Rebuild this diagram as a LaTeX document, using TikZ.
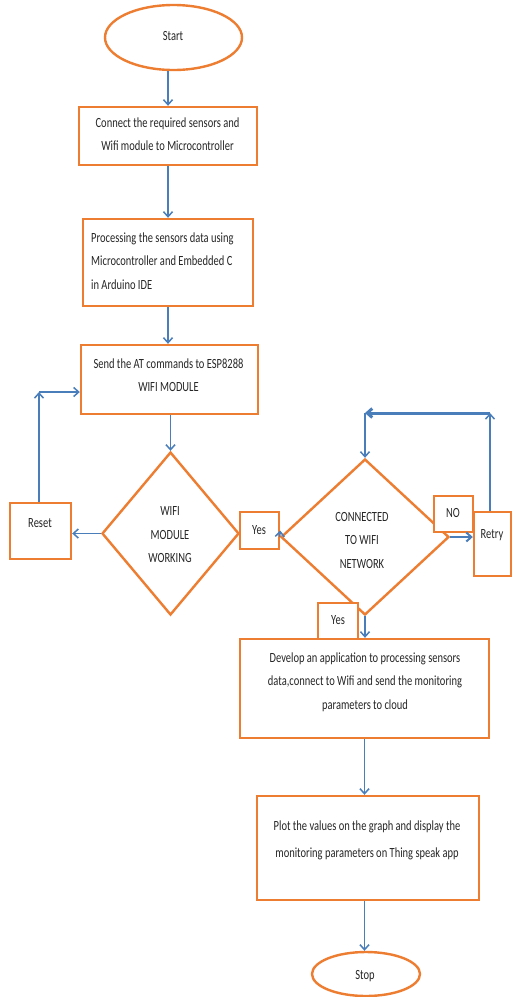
\documentclass[tikz,border=0pt]{standalone}
\usepackage{fontspec}
\setmainfont{Carlito}[FakeStretch=0.75]
\usetikzlibrary{shapes.geometric,arrows.meta}
\definecolor{org}{HTML}{ED7D31}
\definecolor{blu}{HTML}{4A7EBB}
\begin{document}
\begin{tikzpicture}[x=1pt,y=-1pt,
 box/.style={draw=org,fill=white,line width=2.4pt,inner sep=0pt,rectangle},
 txt/.style={font=\fontsize{14}{23.5}\selectfont,align=center,inner sep=0pt,text=black!85},
 arr/.style={draw=blu,line width=1.5pt,-{Straight Barb[length=5pt,width=9pt]}},
 dia/.style={draw=org,fill=white,line width=2.4pt,diamond,inner sep=0pt},
 term/.style={draw=org,fill=white,line width=2.4pt,ellipse,inner sep=0pt}]
\useasboundingbox[fill=white] (0,0) rectangle (512,997);
% terminals and process boxes
\node[term,minimum width=137pt,minimum height=65pt] (start) at (173.5,37.5) {};
\node[txt] (tstart) at (173,36) {Start};
\node[box,minimum width=178pt,minimum height=58pt] (b1) at (168,136) {};
\node[txt] (t1) at (167.5,134) {Connect the required sensors and\\Wifi module to Microcontroller};
\node[box,minimum width=170pt,minimum height=87pt] (b2) at (168,262.5) {};
\node[txt,align=left,anchor=west] (t2) at (91,261) {Processing the sensors data using\\Microcontroller and Embedded C\\in Arduino IDE};
\node[box,minimum width=177pt,minimum height=69pt] (b3) at (169.5,379.5) {};
\node[txt] (t3) at (168.5,375) {Send the AT commands to ESP8288\\WIFI MODULE};
% decisions
\node[dia,minimum width=137pt,minimum height=163pt] (d1) at (170.5,533.5) {};
\node[txt] (td1) at (170,535) {WIFI\\MODULE\\WORKING};
\node[dia,minimum width=168pt,minimum height=156pt] (d2) at (365,537) {};
\node[txt] (td2) at (362,540) {CONNECTED\\TO WIFI\\NETWORK};
% small boxes
\node[box,minimum width=61pt,minimum height=56pt] (reset) at (40.5,531) {};
\node[txt] (treset) at (40,523) {Reset};
\node[box,minimum width=39pt,minimum height=37pt] (y1) at (259.5,530.5) {};
\node[txt] (ty1) at (259,530) {Yes};
\node[box,minimum width=39pt,minimum height=36pt] (no) at (453.5,514) {};
\node[txt] (tno) at (453,513) {NO};
\node[box,minimum width=37pt,minimum height=64pt] (retry) at (492.5,544) {};
\node[txt] (tretry) at (492,535) {Retry};
\node[box,minimum width=40pt,minimum height=36pt] (y2) at (338,621) {};
\node[txt] (ty2) at (338,620) {Yes};
% lower boxes
\node[box,minimum width=249pt,minimum height=99pt] (b4) at (364.5,688.5) {};
\node[txt] (t4) at (365,682) {Develop an application to processing sensors\\data,connect to Wifi and send the monitoring\\parameters to cloud};
\node[box,minimum width=222pt,minimum height=104pt] (b5) at (368,848) {};
\node[txt,font=\fontsize{14}{27}\selectfont] (t5) at (367,840) {Plot the values on the graph and display the\\monitoring parameters on Thing speak app};
\node[term,minimum width=108pt,minimum height=44pt] (stop) at (366,974) {};
\node[txt] (tstop) at (365,976) {Stop};
% connector coordinates
\coordinate (c1) at (39,392);
\coordinate (c2) at (490,413);
\coordinate (c3) at (365,413);
% connectors
\draw[arr] (b1.north |- start.south) -- (b1.north);
\draw[arr] (b1.south) -- (b2.north);
\draw[arr] (b2.south) -- (b2.south |- b3.north);
\draw[arr] (b3.south -| d1.north) -- (d1.north);
\draw[arr] (d1.west) -- (d1.west -| reset.east);
\draw[arr] (reset.north -| c1) -- (c1);
\draw[arr] (c1) -- (c1 -| b3.west);
\draw[arr] (d2.west) -- (y1.east);
\draw[arr,line width=2pt] (d2.east) -- (d2.east -| retry.west);
\draw[arr] (retry.north -| c2) -- (c2);
\draw[arr,line width=3pt] (c2) -- (c3);
\draw[arr] (c3) -- (d2.north);
\draw[arr] (d2.south) -- (d2.south |- b4.north);
\draw[arr] (b4.south) -- (b4.south |- b5.north);
\draw[arr] (b5.south -| b4.south) -- (stop.north -| b4.south);
\end{tikzpicture}
\end{document}
